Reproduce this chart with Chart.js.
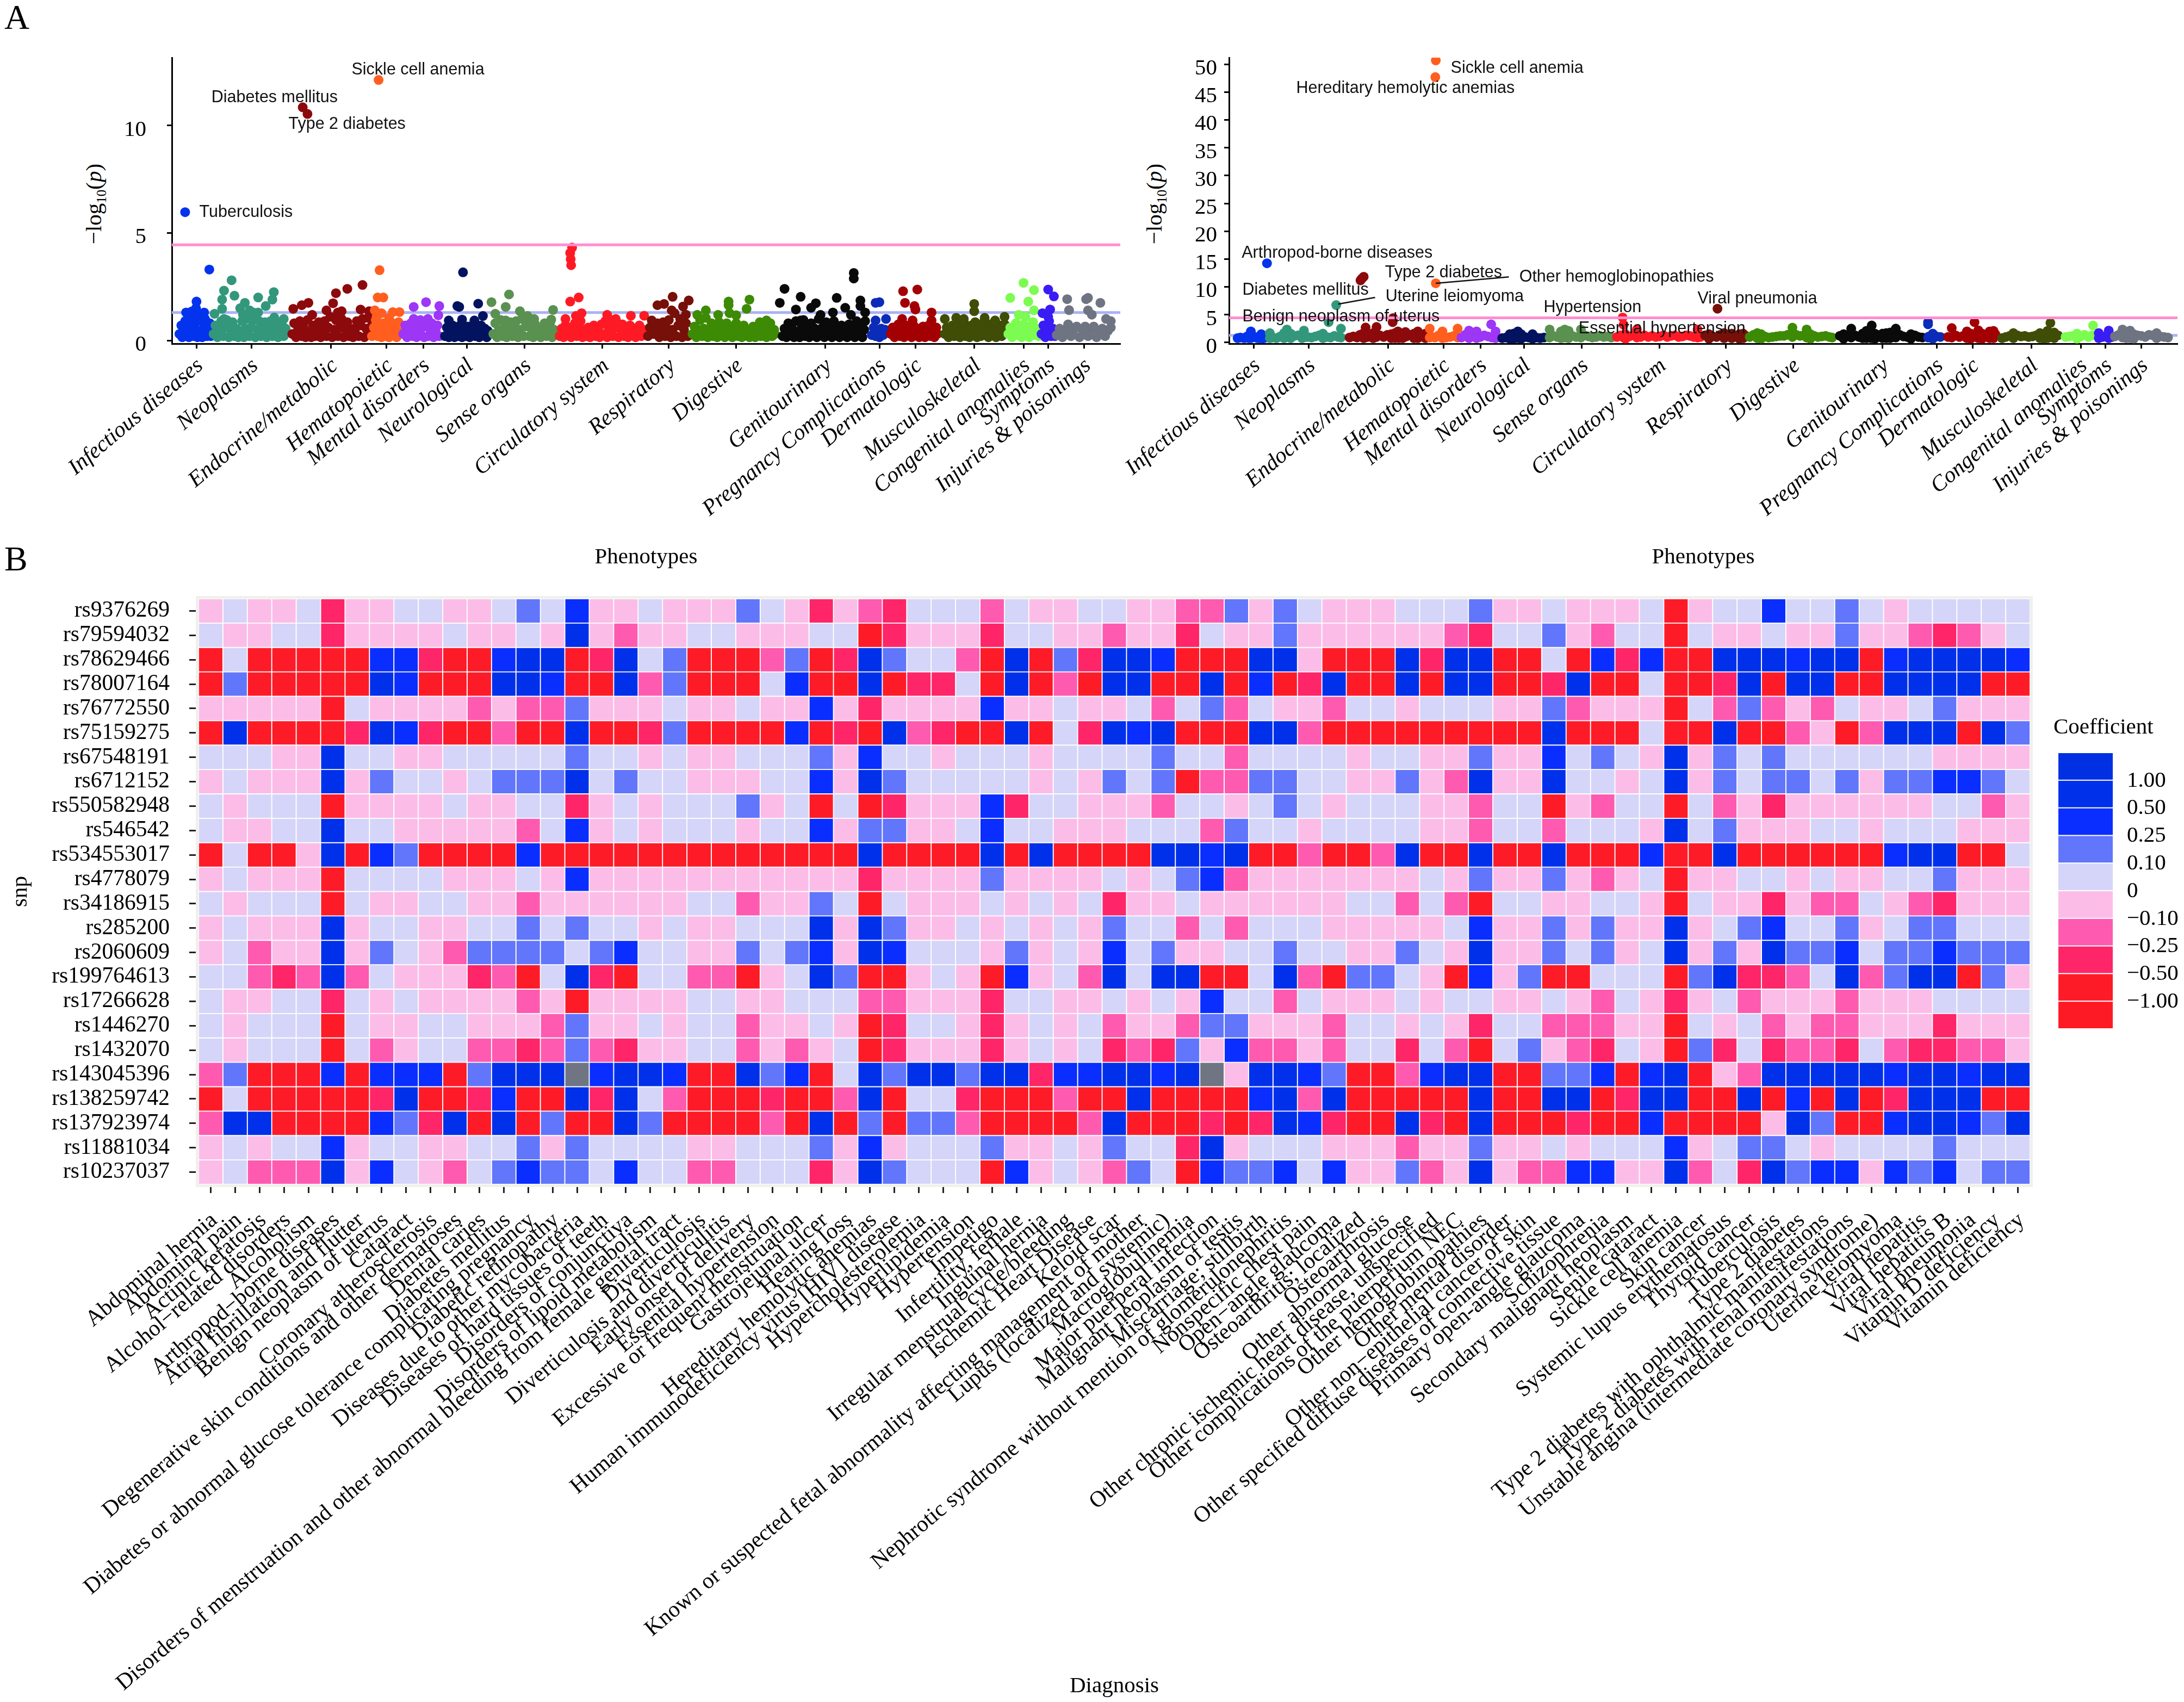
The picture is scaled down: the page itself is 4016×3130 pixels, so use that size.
<!DOCTYPE html>
<html>
<head>
<meta charset="utf-8">
<script src="https://cdn.jsdelivr.net/npm/chart.js@4/dist/chart.umd.min.js"></script>
<style>
    html, body { margin: 0; padding: 0; background: #fff; }
    body { position: relative; width: 4016px; height: 3130px; overflow: hidden; font-family: "Liberation Serif", serif; color: #000; }
    canvas { position: absolute; }
    .letter { position: absolute; font-size: 64px; line-height: 64px; }
    .ytitle { position: absolute; font-size: 41px; line-height: 41px; white-space: nowrap; transform: translate(-50%, -50%) rotate(-90deg); }
    .ytitle sub { font-size: 25px; line-height: 0; }
</style>
</head>
<body>
<div class="letter" style="left:8px;top:0px">A</div>
<div class="letter" style="left:8px;top:996px">B</div>
<div class="ytitle" style="left:172px;top:375px">−log<sub>10</sub>(<i>p</i>)</div>
<div class="ytitle" style="left:2122px;top:375px">−log<sub>10</sub>(<i>p</i>)</div>
<canvas id="left" width="2100" height="1060" style="left:0;top:0"></canvas>
<canvas id="right" width="2072" height="1060" style="left:1944px;top:0"></canvas>
<canvas id="heat" width="4016" height="2070" style="left:0;top:1060px"></canvas>
<script>
// phenotype groups, in axis order
var groups = ["Infectious diseases", "Neoplasms", "Endocrine/metabolic", "Hematopoietic", "Mental disorders", "Neurological", "Sense organs", "Circulatory system", "Respiratory", "Digestive", "Genitourinary", "Pregnancy Complications", "Dermatologic", "Musculoskeletal", "Congenital anomalies", "Symptoms", "Injuries & poisonings"];
var groupTicks = [26, 84, 168, 226, 265, 311, 372, 454, 524, 595, 689, 746, 784, 846, 898, 924, 962];
var groupColors = ["#0433ee", "#33977b", "#8d0a0c", "#ff5e1f", "#9d36f5", "#03135f", "#5a9050", "#fe1a25", "#771008", "#3d8a05", "#0a0a0a", "#0a2cb8", "#a30004", "#3f4d06", "#7cfc50", "#3a1cf5", "#6f7483"];

// left panel: [phenotype rank, -log10(p)]
var infectiousL = [[8,.3],[10,.7],[11,.15],[13,.5],[14,.9],[15,.2],[17,.6],[18,.15],[20,1.0],[21,.4],[23,.2],[24,.8],[26,.5],[27,.15],[28,1.2],[30,.4],[31,.9],[32,.15],[34,.6],[35,1.0],[37,.2],[38,.5],[40,.8],[41,.2],[42,.5],[14,5.97],[39.5,3.3],[26,1.81],[25.5,1.5],[15,1.3],[21,1.35],[34,1.3]];
var neoplasmsL = [[44,.3],[46,.7],[48,.15],[50,.5],[52,.9],[54,.2],[56,.6],[58,.95],[60,.15],[62,.5],[64,.85],[66,.2],[68,.55],[70,.15],[72,.45],[74,.9],[76,.15],[78,.55],[80,1.0],[82,.2],[84,.6],[86,.95],[88,.15],[90,.5],[92,.9],[94,.2],[96,.55],[98,.85],[100,.15],[102,.5],[104,.9],[106,.2],[108,.6],[110,.9],[112,.15],[114,.45],[116,.85],[118,.2],[120,.55],[63,2.8],[55,2.32],[66,2.08],[53,1.9],[53,1.47],[77,1.75],[91,2.0],[107.5,2.25],[106,1.9],[99,1.6],[82,1.4],[91,1.3],[72,1.5],[45,1.24],[108,1.07],[118,1.0],[55,1.0],[86,1.3],[75,1.2]];
var endocrineL = [[127,.3],[129,.8],[131,.15],[133,.5],[135,.9],[137,.2],[139,.6],[141,.15],[143,.95],[145,.4],[147,.15],[149,.7],[151,.2],[153,.55],[155,.85],[157,.15],[159,.5],[161,.9],[163,.2],[165,.6],[167,1.1],[169,.15],[171,.5],[173,.95],[175,.2],[177,.6],[179,1.0],[181,.15],[183,.5],[185,.85],[187,.2],[189,.55],[191,.15],[193,.5],[195,.9],[197,.2],[199,.7],[201,1.0],[203,.15],[205,.55],[207,1.05],[209,.3],[211,.7],[128,1.47],[137,1.64],[144,1.75],[138,10.85],[143,10.54],[173,2.2],[185,2.4],[201,2.58],[170,1.73],[199,1.44],[208,1.36],[163,1.4],[179,1.36],[148,1.19],[175,1.3]];
var hematopoieticL = [[211,.2],[213,.6],[215,.95],[217,.2],[219,.55],[221,.15],[223,.8],[225,.2],[227,.5],[229,.15],[231,.85],[233,.3],[235,.6],[237,.15],[239,.85],[240,.4],[218,12.12],[219,3.27],[217,2.0],[223,2.0],[214,1.4],[221,1.27],[233,1.32],[240,1.32],[216,1.1],[229,1.05]];
var mentalL = [[244,.3],[246,.7],[248,.15],[250,.5],[252,.8],[254,.2],[256,.55],[258,.15],[260,.85],[262,.3],[264,.6],[266,.15],[268,.9],[270,.2],[272,.55],[274,.8],[276,.15],[278,.45],[280,.7],[282,.2],[255,1.56],[268,1.78],[282,1.6],[281,1.17],[255,1.0],[270,1.0],[262,.95]];
var neuroL = [[288,.2],[290,.6],[292,.15],[294,.45],[296,.7],[298,.15],[300,.5],[302,.2],[304,.7],[306,.15],[308,.45],[310,.2],[312,.65],[314,.15],[316,.5],[318,.75],[320,.2],[322,.5],[324,.15],[326,.7],[328,.3],[330,.55],[332,.15],[333,.45],[307,3.17],[301,1.6],[303,1.56],[323,1.71],[328,1.14],[292,.93],[306,.97],[319,.93]];
var senseL = [[339,.3],[341,.8],[343,.15],[345,.5],[347,.95],[349,.2],[351,.6],[353,.15],[355,.5],[357,.85],[359,.2],[361,.55],[363,.9],[365,.15],[367,.5],[369,1.0],[371,.2],[373,.65],[375,.95],[377,.2],[379,.55],[381,.15],[383,.75],[385,.3],[387,.55],[389,.15],[391,.5],[393,.8],[395,.2],[397,.55],[399,.85],[401,.15],[403,.5],[404,.3],[355.5,2.14],[337,1.78],[352,1.56],[402,1.42],[367,1.36],[375,1.14],[341,1.24],[382,1.0],[352,.93],[400,.97]];
var circulatoryL = [[409,.2],[411,.55],[413,.15],[415,.7],[417,.3],[419,.6],[421,.15],[423,.45],[425,.8],[427,.2],[429,.55],[431,.9],[433,.15],[435,.5],[437,.2],[439,.6],[441,.15],[443,.45],[445,.7],[447,.2],[449,.5],[451,.15],[453,.75],[455,.3],[457,.9],[459,.15],[461,.55],[463,.95],[465,.2],[467,.6],[469,.85],[471,.15],[473,.5],[475,.75],[477,.2],[479,.5],[481,.15],[483,.7],[485,.3],[487,.55],[489,.15],[491,.45],[493,.7],[495,.2],[497,.5],[422,4.32],[420,4.07],[420.5,3.78],[421,3.5],[429,2.0],[420,1.81],[432,1.27],[426,1.14],[415,1.0],[459,1.19],[484,1.15],[498,1.15],[468,1.0]];
var respiratoryL = [[502,.2],[504,.6],[506,.93],[508,.3],[510,.55],[512,.8],[514,.15],[516,.5],[518,.85],[520,.2],[522,.55],[524,.95],[526,.15],[528,.5],[530,1.27],[532,.2],[534,.7],[536,1.0],[538,.15],[540,.5],[542,.8],[544,.2],[528,2.03],[512,1.64],[519,1.7],[545,1.86],[539,1.58],[527,1.4],[542,1.2]];
var digestiveL = [[549,.3],[551,.65],[553,.15],[555,.5],[557,.95],[559,.2],[561,.55],[563,1.05],[565,.15],[567,.5],[569,.8],[571,.2],[573,.55],[575,.15],[577,.85],[579,.3],[581,.6],[583,.15],[585,.8],[587,.3],[589,.55],[591,.15],[593,.45],[595,.8],[597,.2],[599,.5],[601,.15],[603,.7],[605,.3],[607,.5],[609,.15],[611,.45],[613,.65],[615,.15],[617,.45],[619,.7],[621,.2],[623,.45],[625,.75],[627,.15],[629,.5],[631,.8],[633,.2],[635,.5],[636,.3],[587,1.81],[587,1.64],[609,1.9],[606,1.47],[563,1.4],[588,1.27],[595,1.17],[576,1.19],[554,1.19],[627,.93],[620,.85]];
var genitourinaryL = [[644,.2],[646,.55],[648,.15],[650,.8],[652,.3],[654,.55],[656,.15],[658,.9],[660,.35],[662,.15],[664,.6],[666,.95],[668,.2],[670,.55],[672,.15],[674,.8],[676,.3],[678,.55],[680,.15],[682,1.0],[684,.3],[686,.6],[688,.15],[690,.85],[692,.3],[694,.55],[696,.15],[698,.9],[700,.3],[702,.6],[704,.15],[706,.7],[708,.3],[710,.55],[712,.15],[714,.75],[716,.3],[718,.55],[720,.15],[722,.9],[724,.3],[726,.6],[728,.15],[730,.5],[731,.9],[641,1.75],[646,2.4],[663,2.03],[679,1.73],[674,1.52],[719,3.14],[719,2.88],[701,1.98],[726,1.86],[726,1.6],[710,1.52],[697,1.3],[731,1.3],[658,1.44],[684,1.19],[716,1.19],[663,.93]];
var pregnancyL = [[738,.25],[740,.6],[742,.2],[744,.45],[746,.15],[748,.55],[750,.25],[752,.5],[753,1.0],[746,1.78],[742,1.75],[742,.93]];
var dermatologicL = [[758,.3],[760,.6],[762,.15],[764,.5],[766,.75],[768,.2],[770,.5],[772,.15],[774,.7],[776,.3],[778,.55],[780,.15],[782,.7],[784,.3],[786,.55],[788,.15],[790,.45],[792,.65],[794,.15],[796,.45],[798,.7],[800,.2],[802,.5],[804,.15],[806,.6],[807,.3],[771,2.29],[786,2.37],[773,1.75],[783,1.6],[784,1.44],[801,1.3],[801,.93],[770,1.0],[781,.93]];
var musculoskeletalL = [[815,.3],[817,.6],[819,.15],[821,.45],[823,.7],[825,.2],[827,.5],[829,.8],[831,.15],[833,.5],[835,.85],[837,.2],[839,.55],[841,.15],[843,.7],[845,.3],[847,.85],[849,.15],[851,.55],[853,.2],[855,.8],[857,.3],[859,.55],[861,.15],[863,.75],[865,.3],[867,.55],[869,.15],[871,.45],[873,.7],[875,.2],[877,.5],[878,.75],[846,1.7],[846,1.36],[815,1.0],[827,1.05],[835,1.0],[857,1.05],[878,1.1],[868,.93]];
var congenitalL = [[882,.3],[884,.6],[886,.15],[888,.5],[890,.8],[892,.25],[894,.55],[896,.15],[898,.75],[900,.3],[902,.6],[904,.15],[906,.5],[908,.85],[910,.25],[912,.55],[914,.2],[898,2.68],[909,2.34],[884,1.98],[903,1.81],[909,1.4],[893,1.19],[900,1.1]];
var symptomsL = [[917,.3],[919,.7],[921,.15],[923,.5],[925,.9],[927,.2],[929,.55],[931,.2],[924,2.37],[930,2.05],[926,1.44],[918,1.27],[924,1.1]];
var injuriesL = [[933,.25],[936,.55],[939,.15],[942,.5],[945,.75],[948,.2],[951,.5],[954,.65],[957,.15],[960,.5],[963,.65],[966,.2],[969,.5],[972,.65],[975,.15],[978,.45],[981,.55],[984,.2],[987,.45],[990,.6],[944,1.92],[964,1.92],[966,1.98],[979,1.75],[946,1.41],[966,1.4],[970,1.2],[985,1.0],[990,.9]];

// right panel: [phenotype rank, -log10(p)]
var infectiousR = [[9,.8],[12,.9],[16,.8],[19,1.1],[21,.8],[23,2.0],[23,.8],[26,1.1],[30,.8],[34,1.5],[34,.7],[37,.8],[40,14.25]];
var neoplasmsR = [[43,1.7],[43,.8],[46,.9],[50,.8],[54,1.1],[58,1.7],[58,.8],[61,2.35],[61,1.0],[65,1.6],[65,.8],[69,1.2],[73,1.3],[77,1.5],[77,.8],[79,2.15],[81,1.0],[83,1.0],[87,.9],[91,1.1],[95,1.3],[99,1.6],[99,.8],[103,1.0],[107,.9],[111,1.2],[115,1.0],[118,2.5],[118,.9],[113,6.73],[105,3.66]];
var endocrineR = [[127,.9],[131,1.1],[135,.9],[138,1.4],[142,1.7],[142,.8],[144,2.7],[146,1.0],[148,1.3],[152,1.7],[152,.8],[155.5,2.8],[155.5,1.0],[159,1.3],[163,1.0],[167,1.4],[171,1.5],[171,.8],[175,1.7],[175,.8],[179,1.8],[179,.8],[183,1.5],[183,.8],[187,1.1],[191,1.4],[195,1.6],[195,.8],[199,2.0],[199,.8],[203,1.4],[207,1.6],[207,.8],[138.6,11.18],[142,11.83],[140,11.5],[172.5,3.66],[173,4.4],[178,2.0],[186,1.9]];
var hematopoieticR = [[211.6,2.5],[211.6,.9],[213,1.1],[217,.9],[221,1.3],[225,2.0],[225,.8],[229,.9],[233,1.0],[237,1.2],[241,2.5],[241,.9],[218,10.65],[218,50.7],[217.5,47.7]];
var mentalR = [[245,.9],[249,1.4],[253,2.15],[253,.8],[257,1.2],[261,2.0],[261,.8],[265,1.0],[269,1.3],[273,1.1],[277,.9],[281,2.0],[281,.8],[276.4,3.27]];
var neuroR = [[288,.8],[292,.9],[296,1.5],[296,.7],[300,1.6],[300,.7],[304.5,2.0],[304.5,.8],[308,1.5],[308,.7],[312,1.0],[316,.9],[320,1.5],[320,.7],[324,.9],[328,.8],[332,.9]];
var senseR = [[338,2.35],[338,.9],[342,1.2],[346,1.0],[350,2.0],[350,.8],[354,2.35],[354,.9],[358,2.1],[358,.8],[362,1.2],[366,1.0],[371,2.35],[371,.9],[375,1.3],[379,1.1],[383,.9],[387,1.0],[391,1.2],[395,1.0],[399,1.1],[403,.9]];
var circulatoryR = [[409,1.0],[413,1.3],[418,1.5],[418,.7],[422,1.1],[426,1.3],[430,2.35],[430,.9],[434,1.0],[438,1.3],[442,1.0],[446,1.2],[450,1.0],[454,1.1],[458,1.3],[462,1.0],[466,1.2],[470,1.3],[474,1.0],[478,1.1],[482,1.3],[486,1.2],[490,1.0],[494,2.35],[494,.9],[497,1.0],[415,4.5],[416,3.2],[416,.9]];
var respiratoryR = [[502,1.3],[506,1.5],[506,.7],[510,1.1],[514,1.0],[518,1.4],[522,1.7],[522,.8],[526,1.2],[530,1.6],[530,.8],[534,1.1],[538,1.5],[538,.7],[542,1.6],[542,.8],[545,1.2],[515,6.08]];
var digestiveR = [[549,1.0],[553,1.4],[557,1.7],[557,.8],[561,1.5],[561,.7],[565,1.1],[569,.9],[573,1.0],[577,1.1],[581,1.2],[585,1.2],[589,1.4],[594,2.68],[594,1.0],[598,1.4],[602,1.2],[606,1.3],[609,2.35],[609,.9],[613,1.5],[613,.7],[617,1.2],[621,1.0],[625,1.1],[629,1.2],[633,1.0],[636,.9]];
var genitourinaryR = [[644,1.2],[648,1.5],[648,.7],[652,1.3],[656,2.5],[656,.9],[660,1.3],[664,1.0],[668,1.6],[668,.8],[672,2.1],[672,.8],[677,1.8],[677,.8],[681,1.6],[681,.7],[685,1.3],[689,1.6],[689,.8],[693,1.7],[693,.8],[697,1.8],[697,.8],[703,2.5],[703,.9],[707,1.4],[711,1.1],[715,1.0],[719,1.5],[719,.7],[723,1.3],[727,1.0],[731,.9],[677.6,3.07]];
var pregnancyR = [[738,1.1],[742,1.6],[742,.7],[746,1.1],[750,1.0],[737,3.27],[737,3.66],[737,.9]];
var dermatologicR = [[758,1.0],[762,2.6],[762,.9],[766,1.3],[770,1.0],[774,1.2],[778,2.0],[778,.8],[782,1.6],[782,.7],[786,3.66],[786,1.2],[790,2.2],[790,.8],[794,1.6],[794,.7],[798,1.3],[802,2.0],[802,.8],[806,2.1],[806,.8],[808,1.5]];
var musculoskeletalR = [[815,.8],[819,1.0],[823,1.2],[827,1.7],[827,.8],[831,1.3],[835,1.1],[839,1.2],[843,1.0],[847,1.1],[851,1.3],[855,1.7],[855,.8],[859,1.5],[859,.7],[863,2.1],[863,.8],[866,3.53],[866,1.2],[870,1.8],[870,.8],[874,1.3]];
var congenitalR = [[882,1.0],[886,1.1],[890,1.2],[894,1.6],[894,.7],[898,1.1],[902,1.4],[906,1.0],[910,1.3],[911,3.07]];
var symptomsR = [[917,1.7],[917,.8],[921,1.0],[925,1.2],[927.5,2.15],[927.5,.8],[931,1.0]];
var injuriesR = [[934,1.1],[938,1.4],[942,2.35],[942,.9],[946,1.7],[946,.8],[950,2.15],[950,.8],[954,1.5],[954,.7],[958,1.3],[962,1.2],[966,1.0],[970,1.4],[974,1.3],[978,1.7],[978,.8],[982,1.1],[986,1.0],[990,.9]];

var seriesL = [infectiousL, neoplasmsL, endocrineL, hematopoieticL, mentalL, neuroL, senseL, circulatoryL, respiratoryL, digestiveL, genitourinaryL, pregnancyL, dermatologicL, musculoskeletalL, congenitalL, symptomsL, injuriesL];
var seriesR = [infectiousR, neoplasmsR, endocrineR, hematopoieticR, mentalR, neuroR, senseR, circulatoryR, respiratoryR, digestiveR, genitourinaryR, pregnancyR, dermatologicR, musculoskeletalR, congenitalR, symptomsR, injuriesR];

// significance lines
var bonferroni = 4.45;
var nominal = 1.3;

// point labels: text, rank of the text start, value of the text middle
var labelsL = [["Sickle cell anemia", 189.5, 12.6], ["Diabetes mellitus", 41.7, 11.3], ["Type 2 diabetes", 123, 10.05], ["Tuberculosis", 29, 5.95]];
var labelsR = [["Sickle cell anemia", 233.7, 49.3], ["Hereditary hemolytic anemias", 70.8, 45.7], ["Arthropod-borne diseases", 13.3, 16.1], ["Type 2 diabetes", 164.4, 12.5], ["Other hemoglobinopathies", 306, 11.8], ["Diabetes mellitus", 14, 9.4], ["Uterine leiomyoma", 165, 8.2], ["Hypertension", 331.7, 6.3], ["Viral pneumonia", 494, 7.9], ["Benign neoplasm of uterus", 14, 4.6], ["Essential hypertension", 368.6, 2.5]];
var connectorsR = [[[218, 10.65], [295, 11.8]], [[115, 6.9], [154, 8.1]]];

// heatmap
var snps = ["rs9376269", "rs79594032", "rs78629466", "rs78007164", "rs76772550", "rs75159275", "rs67548191", "rs6712152", "rs550582948", "rs546542", "rs534553017", "rs4778079", "rs34186915", "rs285200", "rs2060609", "rs199764613", "rs17266628", "rs1446270", "rs1432070", "rs143045396", "rs138259742", "rs137923974", "rs11881034", "rs10237037"];
var diagnoses = ["Abdominal hernia", "Abdominal pain", "Actinic keratosis", "Alcohol−related disorders", "Alcoholism", "Arthropod−borne diseases", "Atrial fibrillation and flutter", "Benign neoplasm of uterus", "Cataract", "Coronary atherosclerosis", "Degenerative skin conditions and other dermatoses", "Dental caries", "Diabetes mellitus", "Diabetes or abnormal glucose tolerance complicating pregnancy", "Diabetic retinopathy", "Diseases due to other mycobacteria", "Diseases of hard tissues of teeth", "Disorders of conjunctiva", "Disorders of lipoid metabolism", "Disorders of menstruation and other abnormal bleeding from female genital tract", "Diverticulosis", "Diverticulosis and diverticulitis", "Early onset of delivery", "Essential hypertension", "Excessive or frequent menstruation", "Gastrojejunal ulcer", "Hearing loss", "Hereditary hemolytic anemias", "Human immunodeficiency virus [HIV] disease", "Hypercholesterolemia", "Hyperlipidemia", "Hypertension", "Impetigo", "Infertility, female", "Inguinal hernia", "Irregular menstrual cycle/bleeding", "Ischemic Heart Disease", "Keloid scar", "Known or suspected fetal abnormality affecting management of mother", "Lupus (localized and systemic)", "Macroglobulinemia", "Major puerperal infection", "Malignant neoplasm of testis", "Miscarriage; stillbirth", "Nephrotic syndrome without mention of glomerulonephritis", "Nonspecific chest pain", "Open−angle glaucoma", "Osteoarthritis; localized", "Osteoarthrosis", "Other abnormal glucose", "Other chronic ischemic heart disease, unspecified", "Other complications of the puerperium NEC", "Other hemoglobinopathies", "Other mental disorder", "Other non−epithelial cancer of skin", "Other specified diffuse diseases of connective tissue", "Primary open-angle glaucoma", "Schizophrenia", "Secondary malignant neoplasm", "Senile cataract", "Sickle cell anemia", "Skin cancer", "Systemic lupus erythematosus", "Thyroid cancer", "Tuberculosis", "Type 2 diabetes", "Type 2 diabetes with ophthalmic manifestations", "Type 2 diabetes with renal manifestations", "Unstable angina (intermediate coronary syndrome)", "Uterine leiomyoma", "Viral hepatitis", "Viral hepatitis B", "Viral pneumonia", "Vitamin D deficiency", "Vitamin deficiency"];

var coefRows = [
    "PLPPLCPPLLPPLMLBPPLPPPM" + "LPCPHCLLLHLPPLLPPHHMPMLPPPLLLMP" + "PLPPPLFPLLBLLMLPLLLLL",
    "LPPLLCPPPPLPPLPKPHPPLLP" + "PPLLFCPPPCLLPPHPPCLPPMPPPPPPHCL" + "LMPHLLFLPPLPPMPPHCHPL",
    "FLFFFFFBBCFFBKKFCKLMFFF" + "HMFCKMLLHFKFMCKKBFFFKKPFFFKCKKF" + "FLFBCBFFKKKBKKFBKKKKB",
    "FMFFFFFKBFFFKKBFFKHMFFF" + "LBFFKFCCLFKFHFKKFFKFBFCKFFKFKKF" + "FCKFFLFFCKFKKFFKKKKFF",
    "PPPPPFLPPPPHPHHMPPPLPPL" + "PPBPCPPPPBPPLPPLHLMHLPPHLLPLLLP" + "PMHPPPFLHMHPHLPPLMPPP",
    "FKFFFFCKBCFFHFFKFFCMFFF" + "FBFCFKHCFFKFLCKBKFFFKKHFFFFFFFF" + "FKFFFLFFKFFHPFHKKKFKM",
    "LLLPPKLLPPLLLLLMLLPLPPL" + "LLMPBLLPLLLPLLLLMLLHLLLLPLLPPMP" + "PBLMLPKPMLMLLLLLLPPPP",
    "PLPPPKPMLLPLMMMKLMLLPPP" + "LLBPKMLLLLLPLPMLMFHHMMLLPPMPHKP" + "PKLLPLKPMLMMLMPMMBBML",
    "LPLLLFPPPPLPPLLCPLPLLLM" + "PLFLFCPPPBCLLPPPHLLPLMLPLLLPPHL" + "LFPHLLFLHPCPPPPPPLLHP",
    "LPPLLKLLPPPPPHLBPLPLLLP" + "LLBPMMPPLBLLPPPLLLHMLLPLLLLPPHL" + "LHLLLPKLMPPPLLPLLLPPP",
    "FLFFPKFBMFFFFBFFFFFFFFF" + "FFFFKFFFFKFKFFFFKKBKFFHFFHKFFKF" + "FKFFFBFFKFFFFFFBKKFFL",
    "PLPPPFLLLLPPPLPBPPPPPPP" + "PPPPCPPPPMPPPPLPLMBHPPPPPPPLPMP" + "PMPHPLFPPLLPLPPLLMPPP",
    "LPLLLFLPPLLPPHPPPPPPLLH" + "PPMLFLPPPLPLPLCPPLPPPPPPLLHLHFL" + "LPPLLPFLPPCPHHLPHCPPP",
    "PLPPPKPLLPPLLMLMLLPLPPL" + "LLKPKMPPLPLPLPMLLHLHLLLPPPPPLBP" + "PMPMPPKPLMBLLMPLMMLLL",
    "PLHPPKPMLPHMMMMLMBLLPPM" + "LMBPKBLLLPMPLPBLMPPLLMLLPPMLPKP" + "PMLMPLKPMPKMMBLMMBMMM",
    "LLHCHKHLPPPCHFLKCFLLHHF" + "PLKMFFPLPFBPLHKLKKFFLKHFMMLPFBP" + "MFFLLLFMKCCHLKHMKKFMP",
    "LPPLLCLPLPPPPHPFPPPPLLP" + "PLLLHHPPPCLLPPLPLPBLLHLPPPLPLLP" + "PLPHLPCPLHPPPHPPPLLLL",
    "LPLLLFLPPLLPPPHMPPLPLLH" + "PPLPFCLLPCPLPLHPPHMMPPPHLLPLPCL" + "LHHHPPFLPLHPHHPPPCPPP",
    "LPLLLFLHPLLHHCHMHCPPLLH" + "PHPLFCPPPCPLPLCHCMPBHHPHLLCLHFL" + "MPHCLPFMCLCHHCLHCCHHP",
    "HMFFFBFBBBFMKKKXBKKBFFK" + "MBFLKMKKMKKCBBKKBKXPKKBMFFHBKKF" + "FMMBFBKFPHKKKKKBKKBKK",
    "FLFFFFFCKFFCBFFKCKLHFFF" + "CFFHKFLLCFFFHFFKFFFFBKHKFFFFFKF" + "FKKFCKKFFKFBFKFCKKKFF",
    "HKKFFFFBMCKFKFMFFKMFFFF" + "HFKFMFMMHFFFFHKFFFCFCKBCFFKCFKF" + "FFCFFBFFFFPKMFFBKKBMK",
    "PLPLLBPLLPPLLMPMLLLLPPL" + "LLMPBPLLLMPPLPMLLCKPLLLPPPHPPMP" + "PLPLLLBPLMMLPLLLLMLLL",
    "PLHHHKPBLPHLMBMMLBLLHHL" + "LLCPKMLLLFBPLPHMLFBMMBLBPPMHPKP" + "HHBBPPKHLCKMBBPBMBLMM"
];
// estimated coefficient for each letter (X = no value)
var coefValues = { K: 0.75, B: 0.35, M: 0.17, L: 0.05, P: -0.05, H: -0.17, C: -0.35, F: -0.75, X: null };

// legend, top to bottom
var legendColors = ["#0030e2", "#0030ea", "#0a2eff", "#6176fb", "#d5d5f9", "#fcbce8", "#fe5ab0", "#fe2568", "#fe1b28", "#fe1a25"];
var legendLabels = ["1.00", "0.50", "0.25", "0.10", "0", "−0.10", "−0.25", "−0.50", "−1.00"];
var legendBreaks = [1, 0.5, 0.25, 0.1, 0, -0.1, -0.25, -0.5, -1];

function coefColor(v) {
    if (v === null) return "#6f7583";
    for (var i = 0; i < legendBreaks.length; i++) {
        if (v >= legendBreaks[i]) return legendColors[i];
    }
    return legendColors[legendColors.length - 1];
}

var serif = "Liberation Serif";

function pointLabels(labels) {
    return {
        id: "pointLabels",
        afterDatasetsDraw: function (chart) {
            var c = chart.ctx;
            c.save();
            c.font = "30.5px 'Liberation Sans'";
            c.fillStyle = "#111";
            c.textBaseline = "middle";
            labels.forEach(function (l) {
                c.fillText(l[0], chart.scales.x.getPixelForValue(l[1]), chart.scales.y.getPixelForValue(l[2]));
            });
            c.restore();
        }
    };
}

function manhattan(id, series, labels, connectors, yMin, yMax, yTicks, box) {
    var datasets = [];
    datasets.push({ data: [{ x: 0, y: nominal }, { x: 1000, y: nominal }], showLine: true, pointRadius: 0, borderColor: "#a9b2f2", borderWidth: 5, order: 30 });
    series.forEach(function (s, i) {
        datasets.push({
            data: s.map(function (p) { return { x: p[0], y: p[1] }; }),
            backgroundColor: groupColors[i], borderColor: groupColors[i], borderWidth: 0, pointRadius: 9, order: 20 - i
        });
    });
    datasets.push({ data: [{ x: 0, y: bonferroni }, { x: 1000, y: bonferroni }], showLine: true, pointRadius: 0, borderColor: "#ff8ed0", borderWidth: 5, order: 2 });
    connectors.forEach(function (c) {
        datasets.push({ data: c.map(function (p) { return { x: p[0], y: p[1] }; }), showLine: true, pointRadius: 0, borderColor: "#111", borderWidth: 2.5, order: 1 });
    });
    new Chart(document.getElementById(id), {
        type: "scatter",
        data: { datasets: datasets },
        options: {
            responsive: false,
            animation: false,
            devicePixelRatio: 1,
            layout: { padding: { top: 106, right: box.right, left: 0, bottom: 0 } },
            plugins: { legend: { display: false }, tooltip: { enabled: false } },
            scales: {
                x: {
                    type: "linear", min: 0, max: 1000,
                    afterBuildTicks: function (s) { s.ticks = groupTicks.map(function (v) { return { value: v }; }); },
                    afterFit: function (s) { s.height = 1060 - 632; },
                    grid: { drawOnChartArea: false, tickLength: 9, tickWidth: 3, tickColor: "#000" },
                    border: { display: true, color: "#000", width: 3 },
                    title: { display: true, text: "Phenotypes", color: "#000", font: { family: serif, size: 41 }, padding: { top: 0, bottom: 10 } },
                    ticks: {
                        autoSkip: false, minRotation: 40, maxRotation: 40, padding: 8, labelOffset: 7, color: "#000",
                        font: { family: serif, size: 41, style: "italic" },
                        callback: function (v) { return groups[groupTicks.indexOf(v)]; }
                    }
                },
                y: {
                    type: "linear", min: yMin, max: yMax,
                    afterBuildTicks: function (s) { s.ticks = yTicks.map(function (v) { return { value: v }; }); },
                    afterFit: function (s) { s.width = box.left; },
                    grid: { drawOnChartArea: false, tickLength: 9, tickWidth: 3, tickColor: "#000" },
                    border: { display: true, color: "#000", width: 3 },
                    ticks: { padding: box.pad, labelOffset: 8, color: "#000", font: { family: serif, size: 41 } }
                }
            }
        },
        plugins: [pointLabels(labels)]
    });
}

manhattan("left", seriesL, labelsL, [], -0.15, 13.16, [0, 5, 10], { left: 316, right: 40, pad: 38 });
manhattan("right", seriesR, labelsR, connectorsR, -0.2, 51.2, [0, 5, 10, 15, 20, 25, 30, 35, 40, 45, 50], { left: 316, right: 12, pad: 13 });

// heatmap cells
var cells = [];
coefRows.forEach(function (row, r) {
    for (var c = 0; c < row.length; c++) {
        cells.push({ x: diagnoses[c], y: snps[r], v: coefValues[row[c]] });
    }
});

var heatFrame = {
    id: "heatFrame",
    afterDraw: function (chart) {
        var c = chart.ctx, a = chart.chartArea;
        c.save();
        c.strokeStyle = "#f0f0ec";
        c.lineWidth = 5;
        c.strokeRect(a.left - 2.5, a.top - 2.5, a.right - a.left + 5, a.bottom - a.top + 5);
        // legend
        var x = 3785, top = 1385 - 1060, h = 50.8;
        c.fillStyle = "#000";
        c.font = "41px '" + serif + "'";
        c.textBaseline = "middle";
        c.fillText("Coefficient", 3776, 1338 - 1060);
        legendColors.forEach(function (col, i) {
            c.fillStyle = col;
            c.fillRect(x, top + i * h, 100, h - 2);
        });
        c.fillStyle = "#000";
        legendLabels.forEach(function (t, i) {
            c.fillText(t, 3911, top + (i + 1) * h);
        });
        c.restore();
    }
};

new Chart(document.getElementById("heat"), {
    type: "scatter",
    data: {
        datasets: [{
            data: cells,
            pointStyle: "rect",
            pointRadius: 30.4,
            borderWidth: 0,
            backgroundColor: function (ctx) { return ctx.raw ? coefColor(ctx.raw.v) : "#fff"; }
        }]
    },
    options: {
        responsive: false,
        animation: false,
        devicePixelRatio: 1,
        layout: { padding: { top: 41, right: 4016 - 3733, left: 0, bottom: 0 } },
        plugins: { legend: { display: false }, tooltip: { enabled: false } },
        scales: {
            x: {
                type: "category", labels: diagnoses, offset: true,
                afterFit: function (s) { s.height = 2070 - (2178 - 1060); s.paddingTop = 0; s.paddingBottom = 0; },
                grid: { display: true, offset: false, drawOnChartArea: false, tickLength: 16, tickWidth: 3, tickColor: "#222" },
                border: { display: false },
                title: { display: true, text: "Diagnosis", color: "#000", font: { family: serif, size: 41 }, padding: { top: 0, bottom: 4 } },
                ticks: { autoSkip: false, minRotation: 40, maxRotation: 40, padding: 26, labelOffset: 7, color: "#000", font: { family: serif, size: 41.5 } }
            },
            y: {
                type: "category", labels: snps, offset: true,
                afterFit: function (s) { s.width = 365; s.paddingTop = 0; s.paddingBottom = 0; },
                grid: { display: true, offset: false, drawOnChartArea: false, tickLength: 17, tickWidth: 3, tickColor: "#222" },
                border: { display: false },
                title: { display: true, text: "snp", color: "#000", font: { family: serif, size: 41 }, padding: { top: 14, bottom: 0 } },
                ticks: { autoSkip: false, padding: 36, color: "#000", font: { family: serif, size: 41.5 } }
            }
        }
    },
    plugins: [heatFrame]
});
</script>
</body>
</html>
